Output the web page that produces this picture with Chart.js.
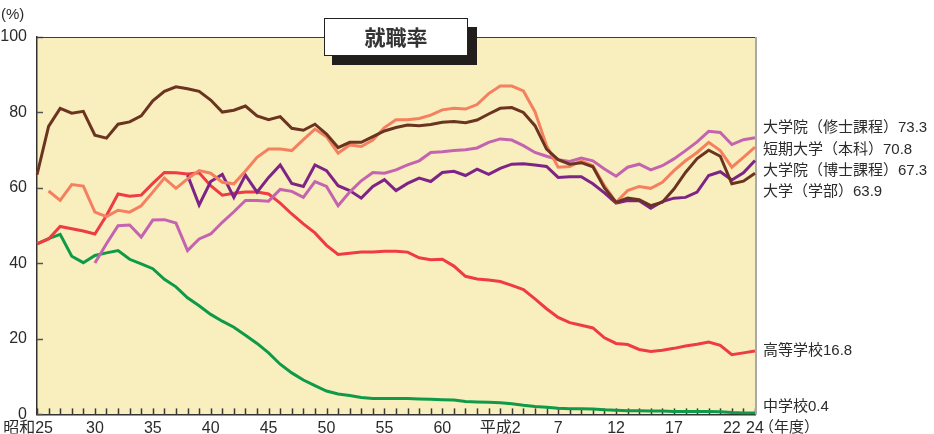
<!DOCTYPE html>
<html lang="ja">
<head>
<meta charset="utf-8">
<title>就職率</title>
<script src="https://cdn.jsdelivr.net/npm/chart.js@4.4.1/dist/chart.umd.min.js"></script>
<style>
  html, body { margin: 0; padding: 0; background: #fff; }
  #wrap { width: 934px; height: 434px; }
</style>
</head>
<body>
<div id="wrap"><canvas id="chart" width="934" height="434"></canvas></div>
<script>
// 年度（昭和25〜平成24）
const fiscalYears = [
    '昭和25', '昭和26', '昭和27', '昭和28', '昭和29', '昭和30', '昭和31', '昭和32', '昭和33', '昭和34',
    '昭和35', '昭和36', '昭和37', '昭和38', '昭和39', '昭和40', '昭和41', '昭和42', '昭和43', '昭和44',
    '昭和45', '昭和46', '昭和47', '昭和48', '昭和49', '昭和50', '昭和51', '昭和52', '昭和53', '昭和54',
    '昭和55', '昭和56', '昭和57', '昭和58', '昭和59', '昭和60', '昭和61', '昭和62', '昭和63', '平成元',
    '平成2', '平成3', '平成4', '平成5', '平成6', '平成7', '平成8', '平成9', '平成10', '平成11',
    '平成12', '平成13', '平成14', '平成15', '平成16', '平成17', '平成18', '平成19', '平成20', '平成21',
    '平成22', '平成23', '平成24'
];

// 目盛りに表示する年度とその表記
const tickYears = ['昭和25', '昭和30', '昭和35', '昭和40', '昭和45', '昭和50', '昭和55', '昭和60', '平成2', '平成7', '平成12', '平成17', '平成22', '平成24'];
const tickLabels = ['昭和25', '30', '35', '40', '45', '50', '55', '60', '平成2', '7', '12', '17', '22', '24'];

const daigaku = [
    63.5, 76.3, 81.1, 79.8, 80.3, 74.0, 73.2, 76.9, 77.5, 79.1,
    83.1, 85.6, 86.8, 86.3, 85.6, 83.3, 80.1, 80.6, 81.7, 79.1,
    78.1, 78.9, 75.8, 75.3, 76.9, 74.3, 70.7, 72.1, 72.1, 73.6,
    75.1, 76.0, 76.7, 76.5, 76.8, 77.4, 77.6, 77.3, 78.0, 79.6,
    81.1, 81.3, 80.0, 76.5, 70.3, 67.5, 66.3, 66.7, 65.6, 60.0,
    56.2, 57.3, 56.9, 55.3, 56.2, 59.7, 64.1, 67.8, 70.0, 68.4,
    61.1, 61.8, 63.9
];
const tanki = [
    null, 59.2, 56.7, 60.9, 60.5, 53.6, 52.4, 54.1, 53.6, 55.3,
    58.9, 62.6, 59.9, 62.4, 64.6, 63.9, 61.5, 61.1, 64.5, 68.1,
    70.3, 70.3, 69.9, 72.8, 75.6, 73.6, 69.2, 71.4, 71.0, 72.7,
    76.0, 78.1, 78.1, 78.4, 79.3, 80.7, 81.1, 80.9, 82.1, 85.0,
    87.0, 87.0, 85.7, 80.2, 71.2, 65.5, 65.7, 67.2, 65.9, 60.6,
    56.2, 59.3, 60.4, 59.9, 61.5, 64.6, 67.2, 69.4, 72.1, 69.9,
    65.5, 68.1, 70.8
];
const shushi = [
    null, null, null, null, null, 40.1, 45.2, 50.0, 50.2, 47.0,
    51.5, 51.6, 50.7, 43.4, 46.5, 47.8, 50.9, 53.7, 56.7, 56.7,
    56.5, 59.6, 59.1, 57.5, 61.7, 60.4, 55.3, 58.9, 61.9, 64.1,
    63.9, 64.8, 66.1, 67.2, 69.4, 69.6, 69.9, 70.1, 70.6, 72.1,
    73.0, 72.7, 71.2, 69.4, 68.4, 67.5, 67.0, 67.9, 67.2, 65.0,
    63.1, 65.5, 66.3, 64.8, 65.9, 67.7, 69.9, 72.2, 75.0, 74.7,
    71.5, 72.8, 73.3
];
const hakase = [
    null, null, null, null, null, null, null, null, null, null,
    null, null, null, 63.4, 55.5, 61.7, 63.6, 57.5, 63.4, 58.9,
    62.8, 66.1, 61.2, 60.4, 66.1, 64.6, 60.6, 59.3, 57.3, 60.4,
    62.2, 59.3, 61.2, 62.6, 61.7, 64.1, 64.4, 63.3, 65.0, 63.6,
    65.2, 66.3, 66.4, 66.1, 65.7, 62.8, 63.0, 63.0, 61.1, 58.7,
    56.0, 56.7, 56.6, 54.6, 56.4, 57.3, 57.5, 58.9, 63.3, 64.3,
    62.1, 64.0, 67.3
];
const koko = [
    45.2, 46.5, 49.8, 49.2, 48.6, 47.8, 52.7, 58.4, 57.8, 58.1,
    61.2, 64.1, 64.0, 63.7, 64.0, 60.6, 58.1, 58.6, 58.9, 58.9,
    58.4, 56.0, 53.1, 50.5, 48.1, 44.8, 42.4, 42.7, 43.0, 43.0,
    43.2, 43.2, 43.0, 41.5, 41.0, 41.1, 39.3, 36.6, 35.9, 35.6,
    35.2, 34.2, 33.1, 30.6, 28.0, 25.7, 24.3, 23.6, 22.9, 20.3,
    18.8, 18.5, 17.2, 16.7, 17.0, 17.5, 18.1, 18.6, 19.2, 18.3,
    15.8, 16.3, 16.8
];
const chugaku = [
    45.2, 46.6, 47.7, 41.9, 40.2, 42.1, 42.8, 43.4, 41.1, 39.9,
    38.6, 35.8, 33.8, 30.9, 28.8, 26.5, 24.7, 23.1, 21.0, 18.8,
    16.3, 13.3, 11.0, 9.1, 7.6, 6.2, 5.4, 5.0, 4.5, 4.2,
    4.2, 4.2, 4.2, 4.1, 4.0, 3.9, 3.8, 3.4, 3.3, 3.2,
    3.1, 2.8, 2.4, 2.1, 1.9, 1.6, 1.5, 1.5, 1.4, 1.2,
    1.1, 1.0, 1.0, 0.9, 0.9, 0.8, 0.8, 0.8, 0.8, 0.7,
    0.5, 0.4, 0.4
];

const seriesNames = ['大学（学部）', '短期大学（本科）', '大学院（修士課程）', '大学院（博士課程）', '高等学校', '中学校'];
const seriesData = [daigaku, tanki, shushi, hakase, koko, chugaku];
const seriesColors = ['#6a3420', '#f5805f', '#c464b1', '#7e2487', '#ee3b44', '#0f9a49'];

// 右側ラベルの並び順と縦位置（％の目盛り上の位置）
const sideOrder = [2, 1, 3, 0, 4, 5];
const sideLabelAt = [75.9, 70.2, 64.6, 59.0, 16.8, 1.9];

const FONT = '"Liberation Sans", "Noto Sans CJK JP", sans-serif';
const TEXT_COLOR = '#2b2b2b';

const decorPlugin = {
    id: 'decor',
    beforeDraw(chart) {
        const { ctx, chartArea: a } = chart;
        ctx.save();
        ctx.fillStyle = '#f9eebd';
        ctx.fillRect(a.left, a.top, a.right - a.left, a.bottom - a.top);
        ctx.restore();
    },
    beforeDatasetsDraw(chart) {
        const { ctx, chartArea: a, scales } = chart;
        ctx.save();
        // 年ごとの目盛り（内向き）
        ctx.strokeStyle = '#3a3a3a';
        ctx.lineWidth = 1.5;
        fiscalYears.forEach((_, i) => {
            const x = Math.round(scales.x.getPixelForValue(i)) + 0.5;
            ctx.beginPath();
            ctx.moveTo(x, a.bottom);
            ctx.lineTo(x, a.bottom - 6);
            ctx.stroke();
        });
        // ％の目盛り（内向き）
        ctx.strokeStyle = '#555';
        scales.y.ticks.forEach(t => {
            const y = Math.round(scales.y.getPixelForValue(t.value)) + 0.5;
            ctx.beginPath();
            ctx.moveTo(a.left, y);
            ctx.lineTo(a.left + 6, y);
            ctx.stroke();
        });
        // 上辺と右辺
        ctx.strokeStyle = '#3c3c3c';
        ctx.lineWidth = 1;
        ctx.beginPath();
        ctx.moveTo(a.left, a.top + 0.5);
        ctx.lineTo(a.right, a.top + 0.5);
        ctx.stroke();
        ctx.strokeStyle = '#a9a9a9';
        ctx.lineWidth = 2;
        ctx.beginPath();
        ctx.moveTo(a.right + 1, a.top);
        ctx.lineTo(a.right + 1, a.bottom);
        ctx.stroke();
        ctx.restore();
    },
    afterDraw(chart) {
        const { ctx, chartArea: a, scales } = chart;
        ctx.save();
        ctx.fillStyle = TEXT_COLOR;
        ctx.textBaseline = 'middle';

        // 単位
        ctx.font = '15px ' + FONT;
        ctx.textAlign = 'left';
        ctx.fillText('(%)', 1, 15);

        // 年度
        ctx.fillText('（年度）', a.right + 4, 428);

        // 系列名と最終値
        sideOrder.forEach((s, k) => {
            const data = seriesData[s];
            const last = data[data.length - 1];
            const y = scales.y.getPixelForValue(sideLabelAt[k]);
            ctx.fillText(seriesNames[s] + last.toFixed(1), a.right + 8, y);
        });

        // タイトルの箱
        ctx.fillStyle = '#221e1c';
        ctx.fillRect(332, 27, 145, 38);
        ctx.fillStyle = '#fff';
        ctx.fillRect(324, 18, 144, 38);
        ctx.strokeStyle = '#222';
        ctx.lineWidth = 1;
        ctx.strokeRect(324.5, 18.5, 143, 37);
        ctx.fillStyle = '#333';
        ctx.font = 'bold 21px "Noto Sans CJK JP", sans-serif';
        ctx.textAlign = 'center';
        ctx.fillText('就職率', 396, 37);
        ctx.restore();
    }
};

new Chart(document.getElementById('chart'), {
    type: 'line',
    data: {
        labels: fiscalYears,
        datasets: seriesNames.map((name, i) => ({
            label: name,
            data: seriesData[i],
            borderColor: seriesColors[i],
            backgroundColor: seriesColors[i],
            borderWidth: 3,
            pointRadius: 0,
            tension: 0,
            fill: false,
            spanGaps: false
        }))
    },
    options: {
        responsive: false,
        animation: false,
        layout: { padding: { left: 0, right: 179, top: 37, bottom: 0 } },
        plugins: {
            legend: { display: false },
            tooltip: { enabled: false },
            title: { display: false }
        },
        scales: {
            x: {
                type: 'category',
                offset: false,
                grid: { display: false, drawTicks: false },
                border: { display: true, color: '#333', width: 1.5 },
                ticks: {
                    autoSkip: false,
                    maxRotation: 0,
                    minRotation: 0,
                    padding: 5,
                    color: TEXT_COLOR,
                    font: { family: FONT, size: 16 },
                    callback: function (value) {
                        const k = tickYears.indexOf(fiscalYears[value]);
                        if (k < 0) return '';
                        return k === 0 ? tickLabels[k] + '    ' : tickLabels[k];
                    }
                },
                afterFit(scale) {
                    scale.height = 19;
                    scale.paddingLeft = 0;
                    scale.paddingRight = 0;
                }
            },
            y: {
                min: 0,
                max: 100,
                grid: { display: false, drawTicks: false },
                border: { display: true, color: '#333', width: 1.5 },
                ticks: {
                    stepSize: 20,
                    padding: 10,
                    color: TEXT_COLOR,
                    font: { family: FONT, size: 16 }
                },
                afterFit(scale) {
                    scale.width = 37;
                }
            }
        }
    },
    plugins: [decorPlugin]
});
</script>
</body>
</html>
